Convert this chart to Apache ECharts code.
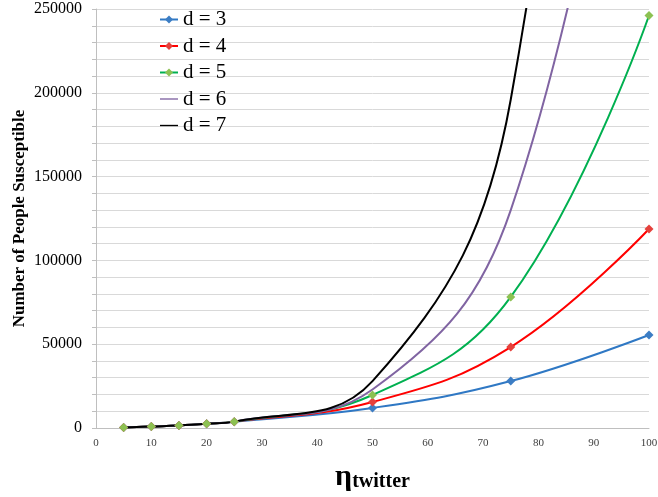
<!DOCTYPE html>
<html>
<head>
<meta charset="utf-8">
<script src="https://cdn.jsdelivr.net/npm/echarts@6/dist/echarts.min.js"></script>
<style>html,body{margin:0;padding:0;background:#fff}#c{width:658px;height:497px}</style>
</head>
<body>
<div id="c"></div>
<script>
const etaValues = [5, 10, 15, 20, 25, 50, 75, 100];
const seriesNames = ['d = 3', 'd = 4', 'd = 5', 'd = 6', 'd = 7'];
const d3 = [300, 900, 1500, 2500, 3800, 12000, 28000, 55500];
const d4 = [300, 900, 1500, 2500, 3800, 15500, 48300, 118700];
const d5 = [300, 900, 1500, 2500, 3800, 19700, 78200, 246100];
const d6 = [300, 900, 1500, 2500, 3800, 23000, 130000, 510000];
const d7 = [300, 900, 1500, 2500, 3800, 28000, 196000, 950000];
const yTicks = [0, 50000, 100000, 150000, 200000, 250000];
const xTicks = [0, 10, 20, 30, 40, 50, 60, 70, 80, 90, 100];

const lineColors = ['#2F78C4', '#FF0000', '#00B050', '#8064A2', '#000000'];
const markerColors = ['#3C7DC4', '#E5413C', '#8CC152', null, null];
const allData = [d3, d4, d5, d6, d7];

const serif = '"Liberation Serif", "Times New Roman", serif';
const chart = echarts.init(document.getElementById('c'));

const series = allData.map((vals, i) => ({
  name: seriesNames[i],
  type: 'line',
  smooth: 0.42,
  data: vals.map((v, j) => [etaValues[j], v]),
  symbol: markerColors[i] ? 'diamond' : 'none',
  symbolSize: 9,
  showSymbol: !!markerColors[i],
  lineStyle: { color: lineColors[i], width: 2 },
  itemStyle: { color: markerColors[i] || lineColors[i], borderWidth: 0 },
  clip: true,
  emphasis: { disabled: true },
  animation: false
}));

const lineIcon = 'path://M0,0H40V3H0Z';
const legendData = seriesNames.map((n, i) => markerColors[i] ? { name: n } : { name: n, icon: lineIcon });

chart.setOption({
  animation: false,
  backgroundColor: '#fff',
  grid: { left: 96, right: 9, top: 9, bottom: 69, containLabel: false, outerBoundsMode: 'none' },
  legend: {
    orient: 'vertical',
    left: 154,
    top: 4,
    itemWidth: 18,
    itemHeight: 10,
    itemGap: 5.5,
    textStyle: { fontFamily: serif, fontSize: 21, color: '#000', lineHeight: 20 },
    data: legendData
  },
  xAxis: {
    type: 'value',
    min: xTicks[0],
    max: xTicks[xTicks.length - 1],
    interval: 10,
    axisLine: { show: true, lineStyle: { color: '#BFBFBF', width: 1 } },
    axisTick: { show: false },
    splitLine: { show: false },
    axisLabel: { fontFamily: serif, fontSize: 11, color: '#404040', margin: 10 },
    name: '{eta|η}{sub|twitter}',
    nameLocation: 'middle',
    nameGap: 34,
    nameMoveOverlap: false,
    nameTextStyle: {
      rich: {
        eta: { fontFamily: serif, fontSize: 30, fontWeight: 'bold', color: '#000', lineHeight: 30, verticalAlign: 'top' },
        sub: { fontFamily: serif, fontSize: 20, fontWeight: 'bold', color: '#000', lineHeight: 20, verticalAlign: 'top', padding: [10, 0, 0, 0] }
      }
    }
  },
  yAxis: {
    type: 'value',
    min: yTicks[0],
    max: yTicks[yTicks.length - 1],
    interval: 50000,
    axisLine: { show: true, lineStyle: { color: '#BFBFBF', width: 1 } },
    axisTick: { show: true, inside: false, length: 4, lineStyle: { color: '#BFBFBF' } },
    minorTick: { show: true, splitNumber: 5, length: 4, lineStyle: { color: '#BFBFBF' } },
    splitLine: { show: true, lineStyle: { color: '#D9D9D9', width: 1 } },
    minorSplitLine: { show: true, lineStyle: { color: '#D9D9D9', width: 1 } },
    axisLabel: { fontFamily: serif, fontSize: 16, color: '#000', margin: 14, formatter: v => String(v) },
    name: 'Number of People Susceptible',
    nameLocation: 'middle',
    nameGap: 68,
    nameMoveOverlap: false,
    nameTextStyle: { fontFamily: serif, fontSize: 17, fontWeight: 'bold', color: '#000' }
  },
  series: series
});
</script>
</body>
</html>
